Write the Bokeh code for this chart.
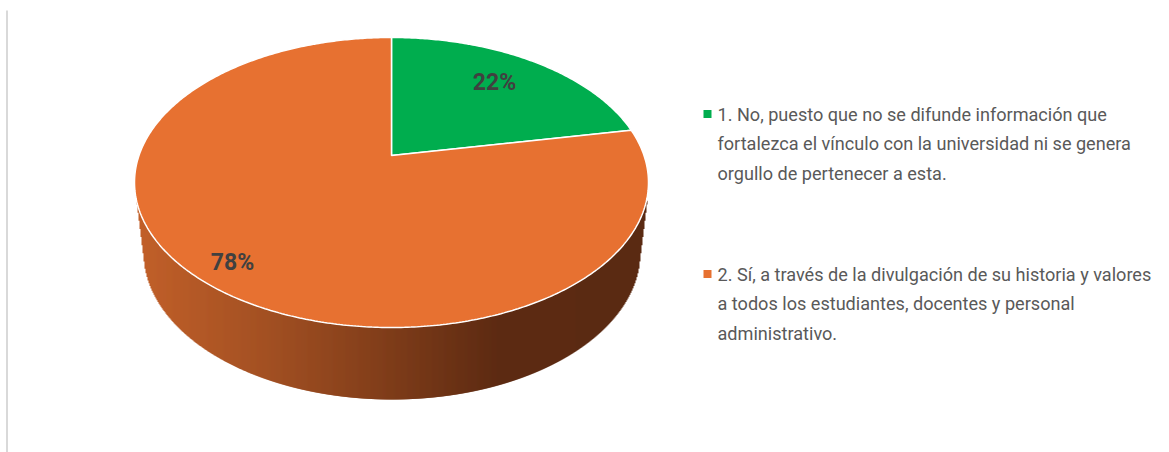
import math
from bokeh.plotting import figure
from bokeh.models import Range1d, ColumnDataSource
from bokeh.core.properties import value
from bokeh.embed import file_html
from bokeh.resources import INLINE

categories = ["1. No", "2. Sí"]
shares = [22, 78]
labels = ["22%", "78%"]
colors = ["#00AD4E", "#E77131"]
legend_lines = [
    ["1. No, puesto que no se difunde información que",
     "fortalezca el vínculo con la universidad ni se genera",
     "orgullo de pertenecer a esta."],
    ["2. Sí, a través de la divulgación de su historia y valores",
     "a todos los estudiantes, docentes y personal",
     "administrativo."],
]

W, H = 1169, 452
p = figure(width=W, height=H, output_backend="svg", toolbar_location=None,
           x_range=Range1d(0, W), y_range=Range1d(H, 0),
           min_border=0, outline_line_color=None, background_fill_color="white")
p.axis.visible = False
p.grid.visible = False

# Projection of the tilted disc onto the page
CX, CY, AP, BP, K = 391.0, 155.0, 252.5, 140.0, 0.186
def proj(theta, r=1.0):
    u, v = r * math.sin(theta), r * math.cos(theta)
    d = 1 + K * v
    return CX + AP * u / d, CY - BP * v / d

# Side wall: thin vertical slices with a horizontal shade
EX, EY, EA, EB = 391.0, 182.0, 257.0, 145.0      # outline of the top face
BY, BA, BB = 252.0, 248.0, 147.0                 # outline of the bottom face
stops = [(134, (194, 96, 41)), (260, (164, 81, 35)), (391, (126, 60, 25)),
         (500, (92, 42, 18)), (648, (91, 42, 18))]
def shade(x):
    for (x0, c0), (x1, c1) in zip(stops, stops[1:]):
        if x <= x1:
            t = (x - x0) / (x1 - x0)
            return "#%02x%02x%02x" % tuple(round(a + (b - a) * t) for a, b in zip(c0, c1))
    return "#%02x%02x%02x" % stops[-1][1]

def top_edge(x):
    return EY + EB * math.sqrt(max(0, 1 - ((x - EX) / EA) ** 2))
def low_edge(x):
    dx = abs(x - EX)
    if dx <= 247:
        return BY + BB * math.sqrt(max(0, 1 - (dx / BA) ** 2))
    t = (dx - 247) / 8.0
    return 265 - (265 - 200) * t

xs = [136 + i for i in range(510)]
wall = ColumnDataSource(dict(
    left=[x for x in xs], right=[x + 2 for x in xs],
    top=[top_edge(x + .5) - 2 for x in xs], bottom=[low_edge(x + .5) for x in xs],
    color=[shade(x) for x in xs]))
p.quad(left="left", right="right", top="top", bottom="bottom", source=wall,
       fill_color="color", line_color=None)

# Faces of the pie
total = sum(shares)
start = 0.0
for share, col in zip(shares, colors):
    end = start + 2 * math.pi * share / total
    n = max(2, int(share * 6))
    pts = [proj(start + (end - start) * i / n) for i in range(n + 1)]
    p.patch([CX] + [a for a, _ in pts], [CY] + [b for _, b in pts],
            fill_color=col, line_color="white", line_width=1.5)
    start = end

# Data labels
radii = [0.72, 0.87]
nudges = [(-2, -3), (1, 0)]
start = 0.0
for share, lab, r, (nx, ny) in zip(shares, labels, radii, nudges):
    mid = start + math.pi * share / total
    x, y = proj(mid, r)
    p.text([x], [y], text=[lab], text_font=value("Roboto"), text_font_size="23px",
           text_font_style="bold", text_color="#404040", x_offset=nx, y_offset=ny,
           text_align="center", text_baseline="middle")
    start += 2 * math.pi * share / total

# Legend
block_y = [113.5, 273.5]
for lines, col, y0 in zip(legend_lines, colors, block_y):
    p.scatter([707], [y0], marker="square", size=8, fill_color=col, line_color=None)
    for i, line in enumerate(lines):
        p.text([717], [y0 + i * 29.8], text=[line], text_font=value("Roboto"),
               text_font_size="18.1px", text_color="#595959",
               text_align="left", text_baseline="middle")

# Thin rule at the left
p.line([6.5, 6.5], [10, 452], line_color="#d9d9d9", line_width=2)

open("out.html", "w").write(file_html(p, INLINE))
